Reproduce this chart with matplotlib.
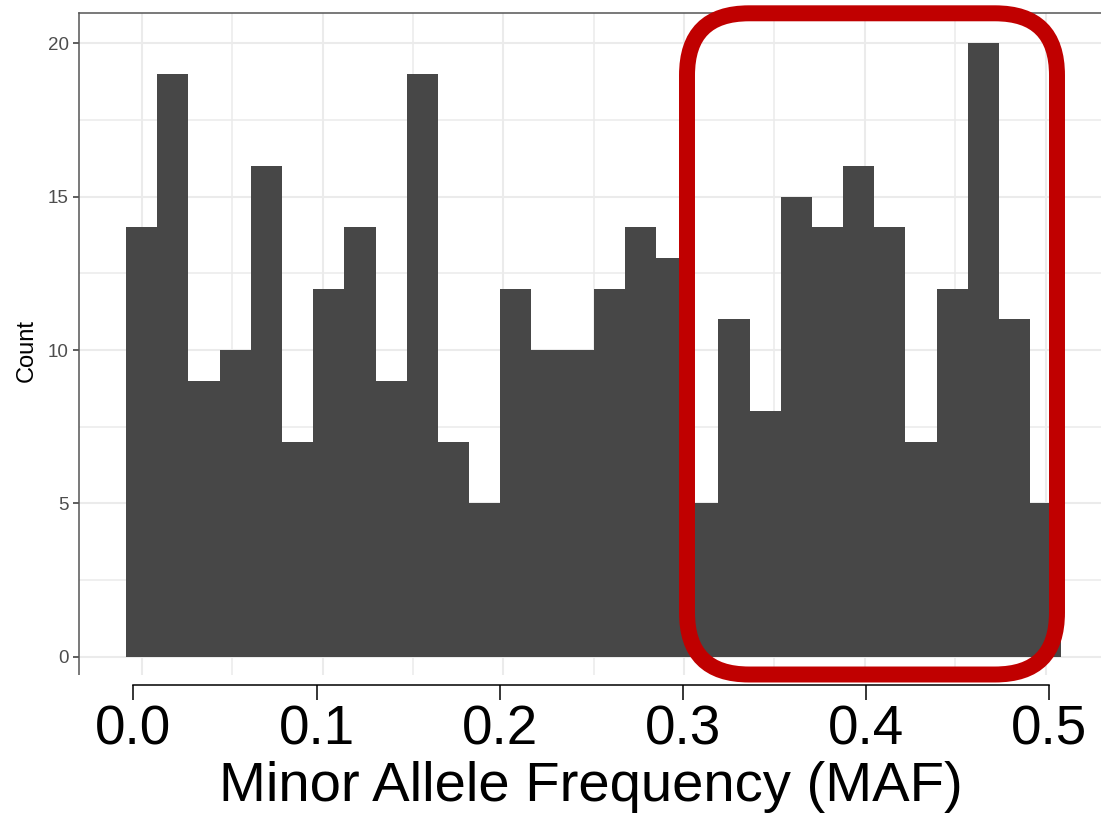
import numpy as np
import matplotlib
matplotlib.use("Agg")
import matplotlib.pyplot as plt
from matplotlib.patches import Rectangle, FancyBboxPatch

# ---- data ----
counts = [14, 19, 9, 10, 16, 7, 12, 14, 9, 19, 7, 5, 12, 10, 10,
          12, 14, 13, 5, 11, 8, 15, 14, 16, 14, 7, 12, 20, 11, 5]
maf_min, maf_max = 0.0, 0.5
n_bins = 30
x_ticks = [0.0, 0.1, 0.2, 0.3, 0.4, 0.5]
x_tick_labels = ["0.0", "0.1", "0.2", "0.3", "0.4", "0.5"]
x_minor = [0.05, 0.15, 0.25, 0.35, 0.45]
y_ticks = [0, 5, 10, 15, 20]
y_minor = [2.5, 7.5, 12.5, 17.5]
x_title = "Minor Allele Frequency (MAF)"
y_title = "Count"

plt.rcParams["font.family"] = ["Liberation Sans", "DejaVu Sans"]

W, H = 1101, 813
fig = plt.figure(figsize=(W / 100, H / 100), dpi=100)


def px_rect(left, top, right, bottom):
    return [left / W, 1 - bottom / H, (right - left) / W, (bottom - top) / H]


# ggplot-style histogram bins (bins=30 over the data range)
binw = (maf_max - maf_min) / (n_bins - 1)
edges = maf_min - binw / 2 + binw * np.arange(n_bins + 1)
pad = 0.05 * (edges[-1] - edges[0])

ax = fig.add_axes(px_rect(79.4, 12.6, 1108.0, 687.4))
ax.bar(edges[:-1], counts, width=binw, align="edge", color="#474747",
       linewidth=0, zorder=2)
ax.set_xlim(edges[0] - pad, edges[-1] + pad)
ax.set_ylim(-1, 21)
ax.set_axisbelow(True)
ax.set_xticks(x_ticks)
ax.set_xticks(x_minor, minor=True)
ax.set_yticks(y_ticks)
ax.set_yticks(y_minor, minor=True)
ax.grid(which="major", color="#EBEBEB", linewidth=1.5)
ax.grid(which="minor", color="#EBEBEB", linewidth=1.1)
ax.tick_params(axis="x", which="both", bottom=False, labelbottom=False)
ax.tick_params(axis="y", which="minor", left=False)
ax.tick_params(axis="y", which="major", length=4.3, width=1.1,
               color="#333333", labelcolor="#4D4D4D", labelsize=13.5, pad=3.5)
for s in ax.spines.values():
    s.set_color("#555555")
    s.set_linewidth(1.1)
ax.set_ylabel(y_title, fontsize=17, color="black", rotation=90)
ax.yaxis.label.set(ha="center", va="center")
ax.yaxis.set_label_coords((26.7 - 79.4) / (1108.0 - 79.4), 0.5)

# white band under the panel, where the enlarged axis sits
fig.add_artist(Rectangle((0, 0), 1, 1 - 675 / H, transform=fig.transFigure,
                         facecolor="white", edgecolor="none", zorder=5))

# enlarged x axis
ax2 = fig.add_axes(px_rect(133.3, 683, 1049.3, 685), zorder=6)
ax2.patch.set_visible(False)
for side in ["top", "left", "right"]:
    ax2.spines[side].set_visible(False)
ax2.spines["bottom"].set_color("black")
ax2.spines["bottom"].set_linewidth(1.1)
ax2.set_xlim(maf_min, maf_max)
ax2.set_yticks([])
ax2.set_xticks(x_ticks)
ax2.set_xticklabels(x_tick_labels)
ax2.tick_params(axis="x", length=10.8, width=1.1, color="black",
                labelsize=39.5, pad=3, labelcolor="black")

fig.text(591 / W, 1 - 800.5 / H, x_title, ha="center", va="baseline",
         fontsize=40.5, color="black", zorder=7)

# red highlight box
fig.add_artist(FancyBboxPatch((6.87, 1.385), 3.70, 6.612,
                              boxstyle="round,pad=0,rounding_size=0.62",
                              transform=fig.dpi_scale_trans, fill=False,
                              edgecolor="#C00000", linewidth=11.5, zorder=10))

fig.savefig("out.png", dpi=100)
